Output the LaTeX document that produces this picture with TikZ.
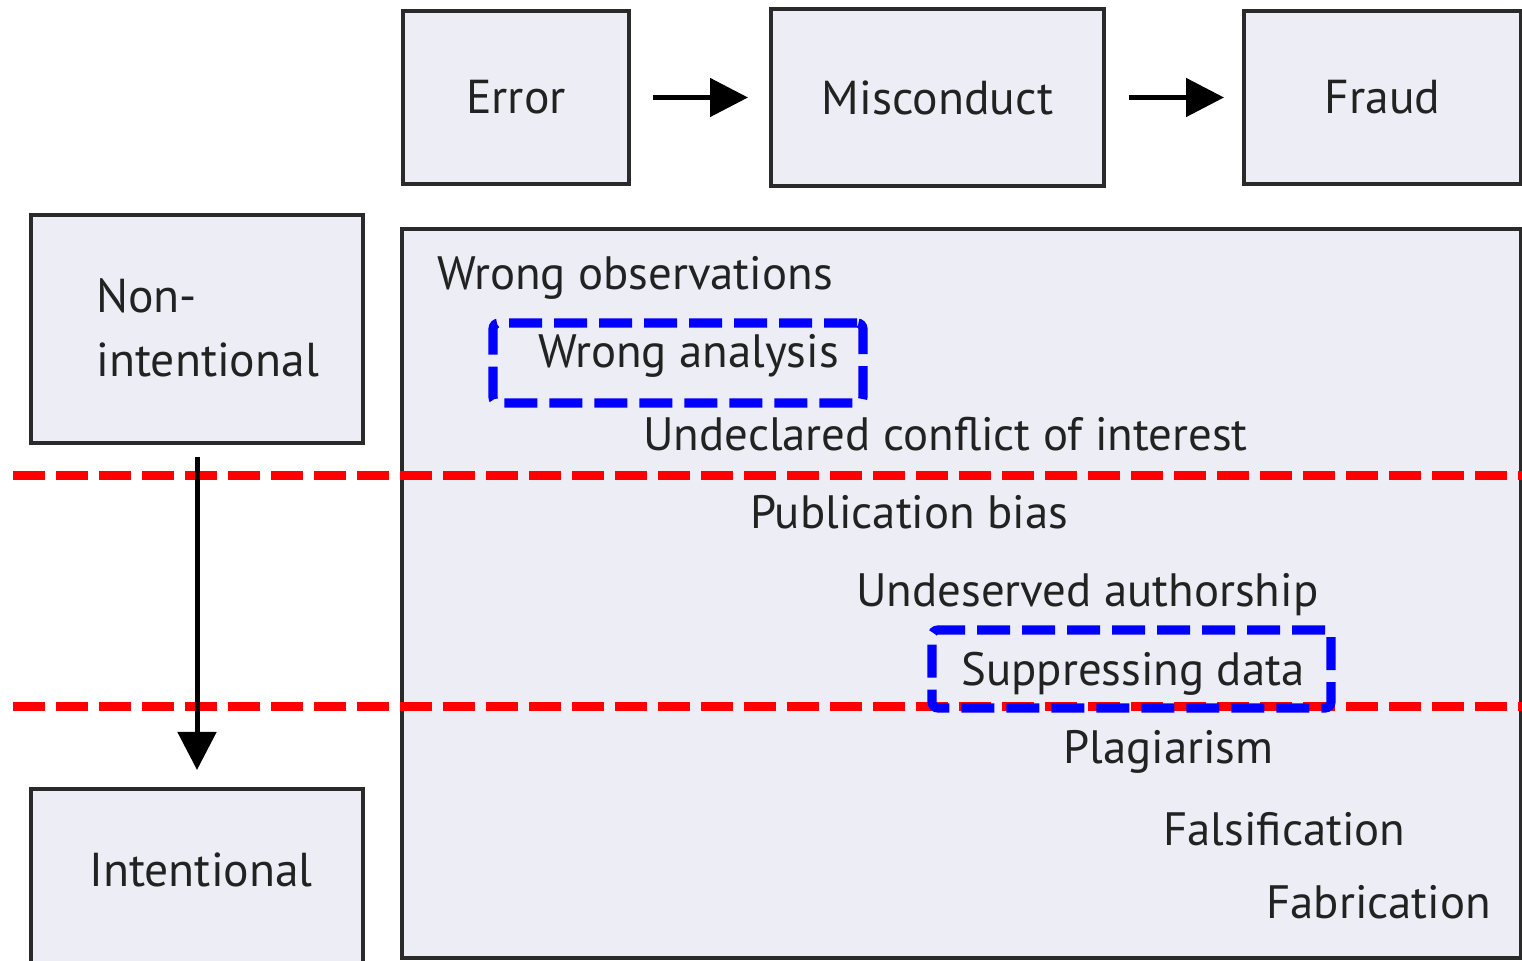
\documentclass[tikz,border=0pt]{standalone}
\usepackage{fontspec}
\setmainfont{PT Sans}
\usetikzlibrary{arrows.meta}
\definecolor{boxfill}{HTML}{EDEDF5}
\definecolor{boxline}{HTML}{2A2A2A}
\definecolor{txt}{HTML}{222222}
\tikzset{
  catbox/.style={draw=boxline, fill=boxfill, line width=2pt, inner sep=0pt, text=txt, font=\fontsize{23.8}{32}\selectfont},
  boxtext/.style={inner sep=0pt, text=txt, font=\fontsize{23.8}{32}\selectfont},
  itemtext/.style={anchor=base west, inner sep=0pt, text=txt, font=\fontsize{23.4}{28}\selectfont},
  redline/.style={draw=red, line width=4.5pt, dash pattern=on 16pt off 5.5pt},
  bluebox/.style={draw=blue, line width=4.6pt, dash pattern=on 16.5pt off 6pt, rounded corners=3pt, inner sep=0pt},
  flow/.style={-{Triangle[length=19pt,width=19pt]}, line width=2.5pt, draw=black}
}
\begin{document}
\begin{tikzpicture}[x=0.5pt,y=-0.5pt]
\path[use as bounding box, fill=white] (0,0) rectangle (1522,961);
% top boxes
\node[catbox, minimum width=113pt, minimum height=86.5pt] (error) at (516,97.5) {Error};
\node[catbox, minimum width=166.5pt, minimum height=88.5pt] (misc) at (937.5,97.5) {Misconduct};
\node[catbox, minimum width=138.5pt, minimum height=86.5pt] (fraud) at (1382.5,97.5) {Fraud};
\draw[flow] ([xshift=11pt]error.east) -- ([xshift=-10.5pt]misc.west);
\draw[flow] ([xshift=11.5pt]misc.east) -- ([xshift=-9pt]fraud.west);
% left boxes
\node[catbox, minimum width=166pt, minimum height=114pt] (nonint) at (197,329) {};
\node[boxtext, anchor=base west] (non1) at (96,313) {Non-};
\node[boxtext, anchor=base west] (non2) at (96,377) {intentional};
\node[catbox, minimum width=166pt, minimum height=105pt] (intbox) at (197,894) {};
\node[boxtext, anchor=base] (intl) at (201,887) {Intentional};
% main box
\node[catbox, minimum width=559.5pt, minimum height=364.5pt] (main) at (961.5,593.5) {};
% red dividers
\coordinate (r1a) at (13,476); \coordinate (r1b) at (1540,476);
\coordinate (r2a) at (13,707); \coordinate (r2b) at (1540,707);
\draw[redline] (r1a) -- (r1b);
\draw[redline] (r2a) -- (r2b);
% vertical arrow
\draw[flow] ([yshift=-6pt]nonint.south) -- ([yshift=8.5pt]intbox.north);
% items
\node[itemtext] (wo) at (437,290) {Wrong observations};
\node[itemtext] (wa) at (538,368) {Wrong analysis};
\node[itemtext] (uc) at (643,451) {Undeclared conflict of interest};
\node[itemtext] (pb) at (750,529) {Publication bias};
\node[itemtext] (ua) at (856,607) {Undeserved authorship};
\node[itemtext] (sd) at (961,686) {Suppressing data};
\node[itemtext] (pl) at (1063,764) {Plagiarism};
\node[itemtext] (fa) at (1163,846) {Falsification};
\node[itemtext] (fb) at (1266,919) {Fabrication};
% blue highlight boxes
\node[bluebox, minimum width=185pt, minimum height=40pt] (wabox) at (678,363) {};
\node[bluebox, minimum width=199.5pt, minimum height=39pt] (sdbox) at (1131.5,669) {};
\end{tikzpicture}
\end{document}
